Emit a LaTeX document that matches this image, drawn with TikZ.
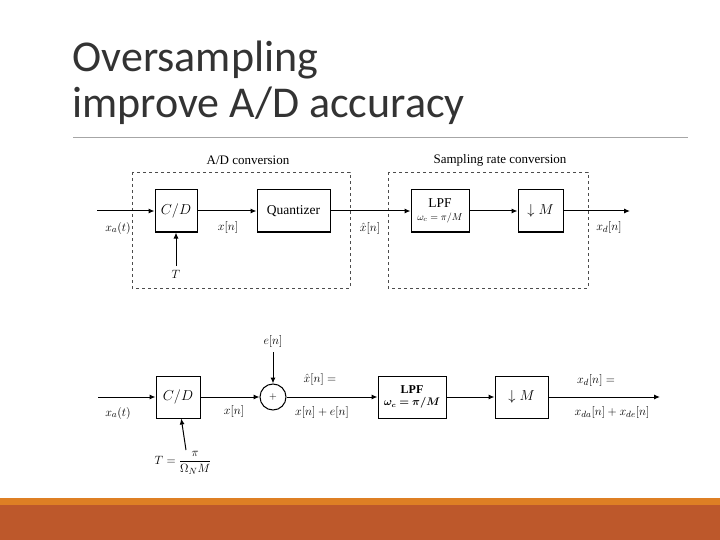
\documentclass[tikz,border=0pt]{standalone}
\usepackage{amsmath,amssymb,bm}
\usepackage{fontspec}
\setmainfont{Liberation Serif}
\newfontfamily\titlefont{Carlito}
\usetikzlibrary{arrows.meta}
\definecolor{rust}{RGB}{189,88,43}
\definecolor{orng}{RGB}{222,127,36}
\begin{document}
\begin{tikzpicture}[x=1pt,y=-1pt,
 blk/.style={draw,line width=1pt,minimum width=#1,minimum height=42pt,inner sep=0pt,font=\fontsize{13.5}{13.5}\selectfont},
 sig/.style={line width=1pt,-{Latex[length=6pt,width=5pt]}},
 dbox/.style={draw=black!70,dashed,line width=0.8pt},
 lbl/.style={font=\fontsize{13}{14}\selectfont,inner sep=1pt}]
\useasboundingbox (0,0) rectangle (720,540);
\fill[white] (0,0) rectangle (720,540);
\node[anchor=west,font=\titlefont\fontsize{44}{46}\selectfont,text=black!80] (t1) at (69,60) {Oversampling};
\node[anchor=west,font=\titlefont\fontsize{44}{46}\selectfont,text=black!80] (t2) at (69,106) {improve A/D accuracy};
\draw[black!35,line width=0.8pt] (73,137) -- (688,137);
\fill[orng] (0,498) rectangle (720,505);
\fill[rust] (0,505) rectangle (720,540);
% top diagram
\draw[dbox] (132,172) rectangle (350,288);
\draw[dbox] (388,172) rectangle (588,288);
\node[lbl] (l1) at (248,160) {A/D conversion};
\node[lbl] (l2) at (500,160) {Sampling rate conversion};
\coordinate (in1) at (97,211);
\node[blk=42pt] (cd1) at (176,211) {$C/D$};
\node[blk=73pt] (q1) at (293.5,211) {Quantizer};
\node[blk=58pt,align=center] (lpf1) at (440,211) {LPF\\[-1pt]{\fontsize{10}{10}\selectfont$\omega_c=\pi/M$}};
\node[blk=45pt] (dm1) at (540.5,211) {$\downarrow M$};
\coordinate (out1) at (630,211);
\coordinate (tb1) at (176,266);
\draw[sig] (in1) -- (cd1);
\draw[sig] (cd1) -- (q1);
\draw[sig] (q1) -- (lpf1);
\draw[sig] (lpf1) -- (dm1);
\draw[sig] (dm1) -- (out1);
\draw[sig] (tb1) -- (cd1);
\node[lbl] (xa1) at (118,228) {$x_a(t)$};
\node[lbl] (T1) at (176,274) {$T$};
\node[lbl] (xn1) at (228,227) {$x[n]$};
\node[lbl] (xh1) at (370,229) {$\hat{x}[n]$};
\node[lbl] (xd1) at (609,227) {$x_d[n]$};
% bottom diagram
\coordinate (in2) at (98,397);
\node[blk=44pt] (cd2) at (178,397) {$C/D$};
\node[draw,circle,line width=1pt,minimum size=26pt,inner sep=0pt] (sum) at (273,397) {$+$};
\node[blk=68pt,align=center,font=\bfseries\fontsize{12}{12}\selectfont] (lpf2) at (412,397) {LPF\\[0pt]{\fontsize{10.5}{10.5}\selectfont$\bm{\omega_c=\pi/M}$}};
\node[blk=53pt] (dm2) at (521.5,397) {$\downarrow M$};
\coordinate (out2) at (660,397);
\coordinate (eb) at (273,352);
\coordinate (tb2) at (186,450);
\draw[sig] (in2) -- (cd2);
\draw[sig] (cd2) -- (sum);
\draw[sig] (sum) -- (lpf2);
\draw[sig] (lpf2) -- (dm2);
\draw[sig] (dm2) -- (out2);
\draw[sig] (eb) -- (sum);
\draw[sig] (tb2) -- (cd2);
\node[lbl] (en) at (273,341) {$e[n]$};
\node[lbl] (xa2) at (118,413) {$x_a(t)$};
\node[lbl] (xn2) at (234,411) {$x[n]$};
\node[lbl] (xh2) at (320,379) {$\hat{x}[n]=$};
\node[lbl] (xe2) at (322,412) {$x[n]+e[n]$};
\node[lbl] (xd2) at (596,380) {$x_d[n]=$};
\node[lbl] (xs2) at (612,412) {$x_{da}[n]+x_{de}[n]$};
\node[lbl] (T2) at (183,463) {$T=\dfrac{\pi}{\Omega_N M}$};
\end{tikzpicture}
\end{document}
